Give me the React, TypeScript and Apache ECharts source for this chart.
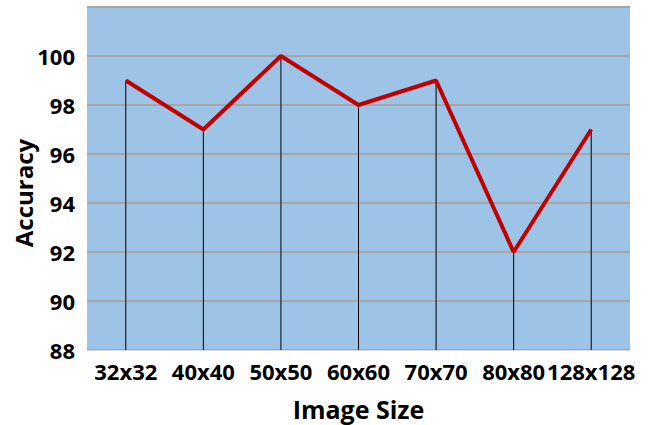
import React, { useEffect, useRef } from "react";
import * as echarts from "echarts";

const categories = ["32x32", "40x40", "50x50", "60x60", "70x70", "80x80", "128x128"];
const accuracy = [99, 97, 100, 98, 99, 92, 97];
const yMin = 88;
const yMax = 102;
const yInterval = 2;
const xTitle = "Image Size";
const yTitle = "Accuracy";

export default function App() {
  const ref = useRef<HTMLDivElement>(null);
  useEffect(() => {
    if (!ref.current) return;
    const chart = echarts.init(ref.current, undefined, { renderer: "svg" });
    const font = "'Open Sans', 'Noto Sans', sans-serif";
    chart.setOption({
      animation: false,
      grid: {
        left: 87,
        right: 29,
        top: 7,
        bottom: 75,
        show: true,
        backgroundColor: "#9DC3E6",
        borderWidth: 0,
        containLabel: false,
        outerBoundsMode: "none",
      },
      graphic: [
        {
          type: "text",
          x: 23,
          y: 193,
          rotation: Math.PI / 2,
          style: {
            text: yTitle,
            fill: "#000",
            font: `bold 24px ${font}`,
            textAlign: "center",
            textVerticalAlign: "middle",
          },
        },
      ],
      xAxis: {
        type: "category",
        data: categories,
        boundaryGap: true,
        name: xTitle,
        nameLocation: "middle",
        nameGap: 46,
        nameMoveOverlap: false,
        nameTextStyle: { color: "#000", fontSize: 25, fontWeight: "bold", fontFamily: font },
        axisLine: { show: true, lineStyle: { color: "#D9D9D9", width: 1 } },
        axisTick: { show: false },
        axisLabel: {
          color: "#000",
          fontSize: 22,
          fontWeight: "bold",
          fontFamily: font,
          margin: 10,
          interval: 0,
          hideOverlap: false,
        },
        splitLine: { show: false },
      },
      yAxis: {
        type: "value",
        min: yMin,
        max: yMax,
        interval: yInterval,
        axisLine: { show: false },
        axisTick: { show: false },
        axisLabel: {
          color: "#000",
          fontSize: 22,
          fontWeight: "bold",
          fontFamily: font,
          margin: 12,
          showMaxLabel: false,
        },
        splitLine: { show: true, lineStyle: { color: "#A6A6A6", width: 2 } },
      },
      series: [
        {
          type: "custom",
          data: accuracy.map((v, i) => [i, v]),
          renderItem: (params: any, api: any) => {
            const i = api.value(0);
            const v = api.value(1);
            const p1 = api.coord([i, v]);
            const p2 = api.coord([i, yMin]);
            return {
              type: "line",
              shape: { x1: p1[0], y1: p1[1], x2: p2[0], y2: p2[1] },
              style: { stroke: "#000", lineWidth: 1 },
            };
          },
          z: 2,
        },
        {
          type: "line",
          data: accuracy,
          symbol: "none",
          lineStyle: { color: "#C00000", width: 4 },
          z: 3,
        },
      ],
    });
    return () => chart.dispose();
  }, []);
  return (
    <div
      ref={ref}
      style={{ position: "absolute", left: 0, top: 0, width: 659, height: 425 }}
    />
  );
}
